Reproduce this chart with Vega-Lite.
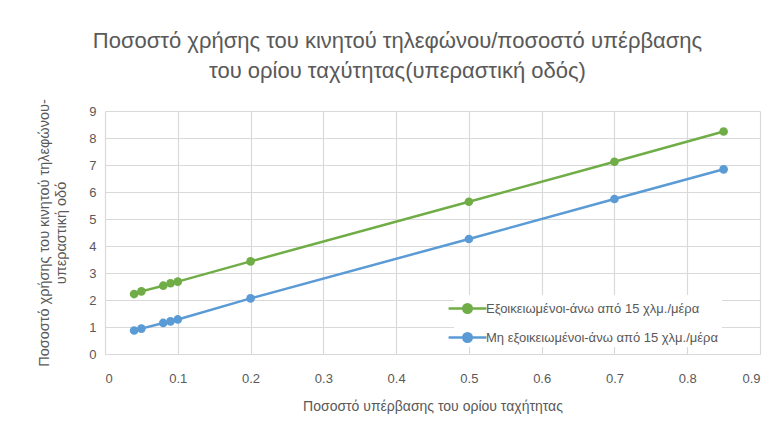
{
  "$schema": "https://vega.github.io/schema/vega-lite/v6.json",
  "autosize": "none",
  "width": 655,
  "height": 243,
  "padding": {"left": 105, "top": 111, "right": 17, "bottom": 84},
  "background": "white",
  "title": {
    "text": ["Ποσοστό χρήσης του κινητού τηλεφώνου/ποσοστό υπέρβασης", "του ορίου ταχύτητας(υπεραστική οδός)"],
    "font": "Liberation Sans, sans-serif",
    "fontSize": 22,
    "fontWeight": "normal",
    "color": "#595959",
    "anchor": "middle",
    "dx": -35,
    "offset": 16,
    "lineHeight": 30
  },
  "data": {
    "values": [
      {"series": "Εξοικειωμένοι-άνω  από 15 χλμ./μέρα", "x": 0.04, "y": 2.22},
      {"series": "Εξοικειωμένοι-άνω  από 15 χλμ./μέρα", "x": 0.05, "y": 2.32},
      {"series": "Εξοικειωμένοι-άνω  από 15 χλμ./μέρα", "x": 0.08, "y": 2.53},
      {"series": "Εξοικειωμένοι-άνω  από 15 χλμ./μέρα", "x": 0.09, "y": 2.62},
      {"series": "Εξοικειωμένοι-άνω  από 15 χλμ./μέρα", "x": 0.1, "y": 2.68},
      {"series": "Εξοικειωμένοι-άνω  από 15 χλμ./μέρα", "x": 0.2, "y": 3.43},
      {"series": "Εξοικειωμένοι-άνω  από 15 χλμ./μέρα", "x": 0.5, "y": 5.64},
      {"series": "Εξοικειωμένοι-άνω  από 15 χλμ./μέρα", "x": 0.7, "y": 7.12},
      {"series": "Εξοικειωμένοι-άνω  από 15 χλμ./μέρα", "x": 0.85, "y": 8.24},
      {"series": "Μη εξοικειωμένοι-άνω  από 15 χλμ./μέρα", "x": 0.04, "y": 0.87},
      {"series": "Μη εξοικειωμένοι-άνω  από 15 χλμ./μέρα", "x": 0.05, "y": 0.94},
      {"series": "Μη εξοικειωμένοι-άνω  από 15 χλμ./μέρα", "x": 0.08, "y": 1.15},
      {"series": "Μη εξοικειωμένοι-άνω  από 15 χλμ./μέρα", "x": 0.09, "y": 1.21},
      {"series": "Μη εξοικειωμένοι-άνω  από 15 χλμ./μέρα", "x": 0.1, "y": 1.28},
      {"series": "Μη εξοικειωμένοι-άνω  από 15 χλμ./μέρα", "x": 0.2, "y": 2.06},
      {"series": "Μη εξοικειωμένοι-άνω  από 15 χλμ./μέρα", "x": 0.5, "y": 4.26},
      {"series": "Μη εξοικειωμένοι-άνω  από 15 χλμ./μέρα", "x": 0.7, "y": 5.74},
      {"series": "Μη εξοικειωμένοι-άνω  από 15 χλμ./μέρα", "x": 0.85, "y": 6.84}
    ]
  },
  "mark": {"type": "line", "strokeWidth": 2.5, "point": {"filled": true, "size": 75, "opacity": 1}},
  "encoding": {
    "x": {
      "field": "x", "type": "quantitative",
      "scale": {"domain": [0, 0.9], "nice": false, "zero": true},
      "axis": {
        "values": [0, 0.1, 0.2, 0.3, 0.4, 0.5, 0.6, 0.7, 0.8, 0.9],
        "labelExpr": "datum.value == 0 ? '0' : datum.label",
        "title": "Ποσοστό υπέρβασης του ορίου ταχήτητας",
        "titleFont": "Liberation Sans, sans-serif",
        "titleFontSize": 14, "titleFontWeight": "normal", "titleColor": "#595959",
        "titlePadding": 14,
        "labelFont": "Liberation Sans, sans-serif",
        "labelFontSize": 13, "labelColor": "#595959", "labelPadding": 18,
        "ticks": false, "domainColor": "#d9d9d9", "gridColor": "#d9d9d9", "gridWidth": 1.2
      }
    },
    "y": {
      "field": "y", "type": "quantitative",
      "scale": {"domain": [0, 9], "nice": false},
      "axis": {
        "values": [0, 1, 2, 3, 4, 5, 6, 7, 8, 9],
        "title": ["Ποσοστό χρήσης του κινητού τηλεφώνου-", "υπεραστική οδό"],
        "titleFont": "Liberation Sans, sans-serif",
        "titleFontSize": 14.5, "titleFontWeight": "normal", "titleColor": "#595959",
        "titlePadding": 20, "titleLineHeight": 17,
        "labelFont": "Liberation Sans, sans-serif",
        "labelFontSize": 13, "labelColor": "#595959", "labelPadding": 9,
        "ticks": false, "domain": false, "gridColor": "#d9d9d9", "gridWidth": 1.2
      }
    },
    "color": {
      "field": "series", "type": "nominal",
      "scale": {
        "domain": ["Εξοικειωμένοι-άνω  από 15 χλμ./μέρα", "Μη εξοικειωμένοι-άνω  από 15 χλμ./μέρα"],
        "range": ["#70AD47", "#5B9BD5"]
      },
      "legend": {
        "title": null,
        "orient": "none",
        "legendX": 349,
        "legendY": 184,
        "symbolType": "M-1.6,0H-0.36A0.36,0.36 0 1,1 0.36,0A0.36,0.36 0 1,1 -0.36,0M0.36,0H1.6",
        "symbolSize": 560,
        "symbolStrokeWidth": 2.5,
        "labelOffset": 5,
        "labelFont": "Liberation Sans, sans-serif",
        "labelFontSize": 13, "labelColor": "#595959", "labelLimit": 0,
        "rowPadding": 6,
        "fillColor": "white"
      }
    }
  },
  "config": {"view": {"stroke": null}}
}
